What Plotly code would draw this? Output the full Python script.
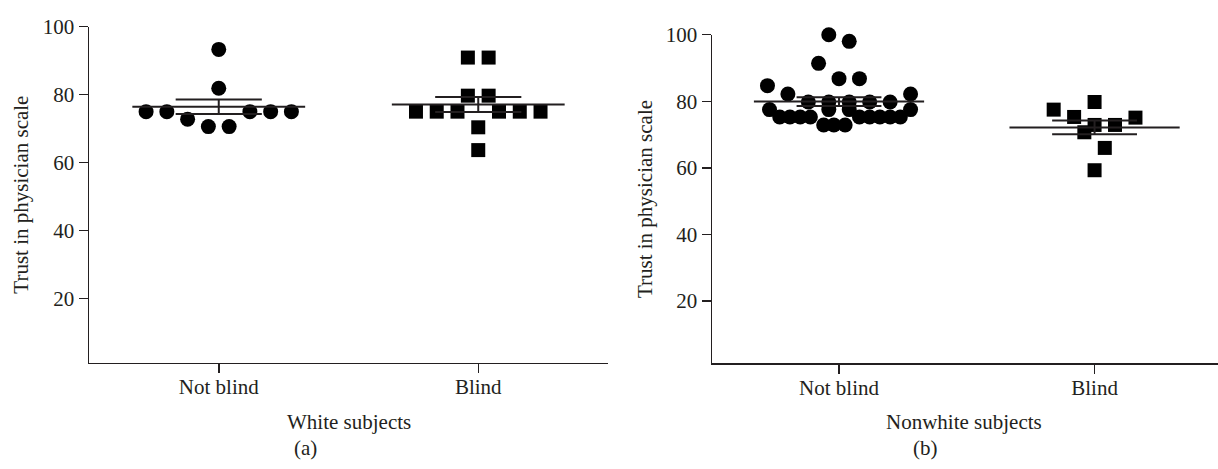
import numpy as np
import plotly.graph_objects as go

# ---------------- data ----------------
categories = ["Not blind", "Blind"]
y_ticks = [20, 40, 60, 80, 100]

white_not_blind = [93.3, 81.9, 75.0, 75.0, 75.0, 75.0, 75.0, 72.8, 70.6, 70.6]
white_blind = [90.9, 90.9, 79.7, 79.7, 75.0, 75.0, 75.0, 75.0, 75.0, 75.0, 70.4, 63.7]
nonwhite_not_blind = [100.0, 98.0, 91.4, 86.8, 86.8, 84.7, 82.2, 82.2,
                      79.8, 79.8, 79.8, 79.8, 79.8,
                      77.5, 77.5, 77.5, 77.5,
                      75.3, 75.3, 75.3, 75.3, 75.3, 75.3, 75.3, 75.3, 75.3,
                      72.9, 72.9, 72.9]
nonwhite_blind = [79.8, 77.5, 75.3, 75.1, 72.9, 72.9, 70.7, 66.0, 59.3]

# ---------------- layout helpers (scatter-dot column slots) ----------------
SLOT = 0.08
white_not_blind_slots = [0, 0, -3.5, -2.5, 1.5, 2.5, 3.5, -1.5, -0.5, 0.5]
white_blind_slots = [-0.5, 0.5, -0.5, 0.5, -3, -2, -1, 1, 2, 3, 0, 0]
nonwhite_not_blind_slots = [-0.5, 0.5, -1, 0, 1, -3.5, -2.5, 3.5,
                            -1.5, -0.5, 0.5, 1.5, 2.5,
                            -3.4, -0.5, 0.5, 3.5,
                            -2.9, -2.4, -1.9, -1.4, 1.0, 1.5, 2.0, 2.5, 3.0,
                            -0.75, -0.25, 0.3]
nonwhite_blind_slots = [0, -2, -1, 2, 0, 1, -0.5, 0.5, 0]

INK = "#231f20"
FONT = "Liberation Serif"
W, H = 1218, 469

fig = go.Figure()


def add_group(values, slots, cat_index, symbol, size, xa, ya):
    xs = [cat_index + s * SLOT for s in slots]
    fig.add_trace(go.Scatter(
        x=xs, y=values, mode="markers", xaxis=xa, yaxis=ya,
        marker=dict(symbol=symbol, size=size, color="black", line=dict(width=0)),
        cliponaxis=False, showlegend=False, hoverinfo="y"))
    v = np.asarray(values, dtype=float)
    m = v.mean()
    sem = v.std(ddof=1) / np.sqrt(len(v))
    c = cat_index
    # mean line
    fig.add_trace(go.Scatter(
        x=[c - 0.333, c + 0.333], y=[m, m], mode="lines", xaxis=xa, yaxis=ya,
        line=dict(color=INK, width=2), showlegend=False, hoverinfo="skip"))
    # SEM caps and stem
    fig.add_trace(go.Scatter(
        x=[c - 0.166, c + 0.166, None, c - 0.166, c + 0.166, None, c, c],
        y=[m + sem, m + sem, None, m - sem, m - sem, None, m - sem, m + sem],
        mode="lines", xaxis=xa, yaxis=ya,
        line=dict(color=INK, width=2), showlegend=False, hoverinfo="skip"))


add_group(white_not_blind, white_not_blind_slots, 0, "circle", 15, "x", "y")
add_group(white_blind, white_blind_slots, 1, "square", 14, "x", "y")
add_group(nonwhite_not_blind, nonwhite_not_blind_slots, 0, "circle", 15, "x2", "y2")
add_group(nonwhite_blind, nonwhite_blind_slots, 1, "square", 14, "x2", "y2")

tickfont = dict(family=FONT, size=21, color=INK)
axis_common = dict(showline=True, linecolor=INK, linewidth=1.5, ticks="outside",
                   ticklen=9, tickwidth=1.5, tickcolor=INK, showgrid=False,
                   zeroline=False, tickfont=tickfont, fixedrange=True)

# pixel geometry of the two plot areas
L_x0, L_x1, L_ytop, L_ybot = 89, 608, 15, 360
R_x0, R_x1, R_ytop, R_ybot = 712, 1218, 23.3, 360.7


def xdom(a, b):
    return [a / W, b / W]


def ydom(top, bot):
    return [(H - bot) / H, (H - top) / H]


fig.update_layout(
    width=W, height=H, margin=dict(l=0, r=0, t=0, b=0),
    paper_bgcolor="white", plot_bgcolor="white",
    xaxis=dict(domain=xdom(L_x0, L_x1), range=[-0.5, 1.5], anchor="y",
               tickvals=[0, 1], ticktext=categories, ticklabelstandoff=-4, **axis_common),
    yaxis=dict(domain=ydom(L_ytop, L_ybot), range=[1.17, 100], anchor="x",
               tickvals=y_ticks, **axis_common),
    xaxis2=dict(domain=xdom(R_x0, R_x1), range=[-0.497, 1.483], anchor="y2",
                tickvals=[0, 1], ticktext=categories, ticklabelstandoff=-4, **axis_common),
    yaxis2=dict(domain=ydom(R_ytop, R_ybot), range=[1.27, 100], anchor="x2",
                tickvals=y_ticks, **axis_common),
)

titlefont = dict(family=FONT, size=21, color=INK)


def ann(text, xpx, ypx, angle=0):
    fig.add_annotation(text=text, x=xpx / W, y=(H - ypx) / H, xref="paper", yref="paper",
                       showarrow=False, xanchor="center", yanchor="middle",
                       textangle=angle, font=titlefont)


ann("White subjects", 349, 421)
ann("Nonwhite subjects", 964, 421)
ann("(a)", 305, 447)
ann("(b)", 925, 447)
ann("Trust in physician scale", 21, (L_ytop + L_ybot) / 2, -90)
ann("Trust in physician scale", 645, (R_ytop + R_ybot) / 2, -90)

fig.write_html("out.html",
               config={"displayModeBar": False, "staticPlot": True},
               post_script="document.body.style.margin='0';document.body.style.overflow='hidden';")
